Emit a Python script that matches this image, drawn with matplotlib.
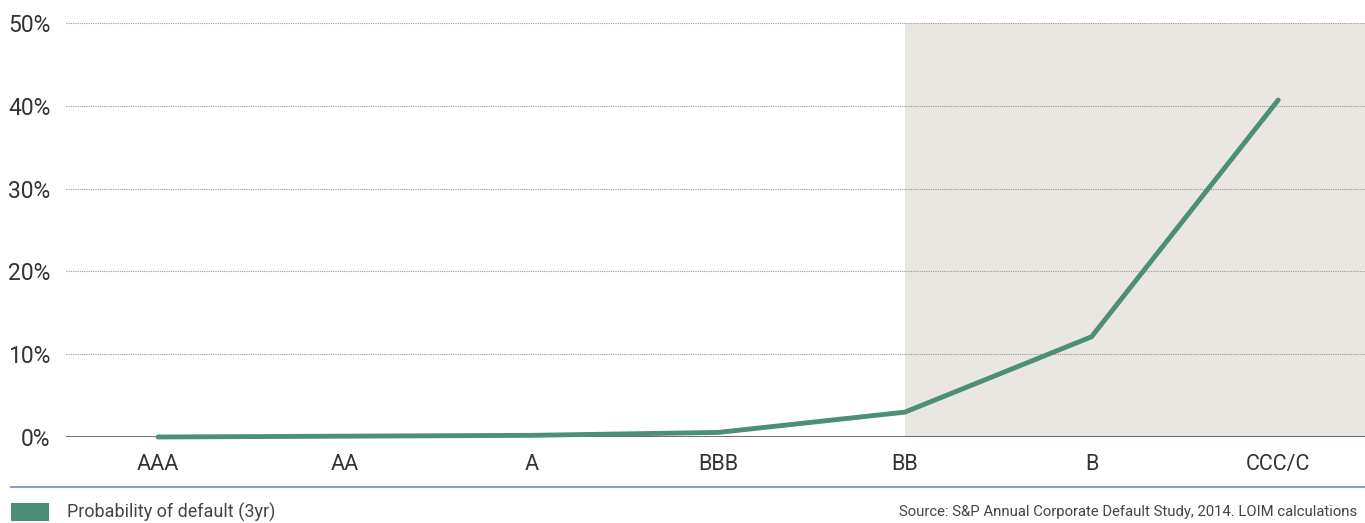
import matplotlib
matplotlib.use("Agg")
import matplotlib.pyplot as plt
from matplotlib.patches import Rectangle
from matplotlib.lines import Line2D
from matplotlib import font_manager

ratings = ["AAA", "AA", "A", "BBB", "BB", "B", "CCC/C"]
default_prob = [0.0, 0.1, 0.2, 0.55, 3.0, 12.1, 40.7]
y_ticks = [0, 10, 20, 30, 40, 50]
y_labels = ["0%", "10%", "20%", "30%", "40%", "50%"]
legend_label = "Probability of default (3yr)"
source_text = "Source: S&P Annual Corporate Default Study, 2014. LOIM calculations"

names = {f.name for f in font_manager.fontManager.ttflist}
family = "Liberation Sans Narrow" if "Liberation Sans Narrow" in names else "Roboto"
plt.rcParams["font.family"] = [family, "DejaVu Sans"]

line_color = "#4a8f76"
shade_color = "#eae6e1"
text_color = "#333333"

fig = plt.figure(figsize=(13.65, 5.23), dpi=100)
ax = fig.add_axes([66 / 1365, 1 - 437 / 523, 1299 / 1365, 414 / 523])

x = list(range(len(ratings)))
ax.set_xlim(-0.493, 6.465)
ax.set_ylim(0, 50)

# speculative-grade region shading
bb = ratings.index("BB")
ax.axvspan(bb, 6.465, ymin=0, ymax=1, color=shade_color, zorder=0, lw=0)

for t in y_ticks[1:]:
    ax.axhline(t, color="#9a9a9a", lw=0.8, ls=(0, (1, 1)), zorder=1)
ax.axhline(0, color="#555555", lw=1.2, zorder=2)

ax.plot(x, default_prob, color=line_color, lw=3.5, solid_capstyle="round",
        solid_joinstyle="miter", zorder=3, clip_on=False)

for s in ax.spines.values():
    s.set_visible(False)
ax.set_yticks(y_ticks)
ax.set_yticklabels(y_labels, fontsize=16.5, color=text_color)
ax.set_xticks(x)
ax.set_xticklabels(ratings, fontsize=15.5, color=text_color)
ax.tick_params(axis="both", length=0)
ax.tick_params(axis="y", pad=11)
ax.tick_params(axis="x", pad=12)

# footer rule, legend key and source note
fig.add_artist(Line2D([11 / 1365, 1.0], [1 - 487 / 523] * 2, color="#8e9bd0", lw=1.5,
                      transform=fig.transFigure))
fig.add_artist(Rectangle((11 / 1365, 1 - 521 / 523), 38 / 1365, 18 / 523,
                         transform=fig.transFigure, color=line_color, lw=0))
fig.text(67 / 1365, 1 - 512 / 523, legend_label, fontsize=13, color="#444444", va="center")
fig.text(899 / 1365, 1 - 512 / 523, source_text, fontsize=10.7, color="#444444", va="center")

fig.savefig("out.png", dpi=100, facecolor="white")
